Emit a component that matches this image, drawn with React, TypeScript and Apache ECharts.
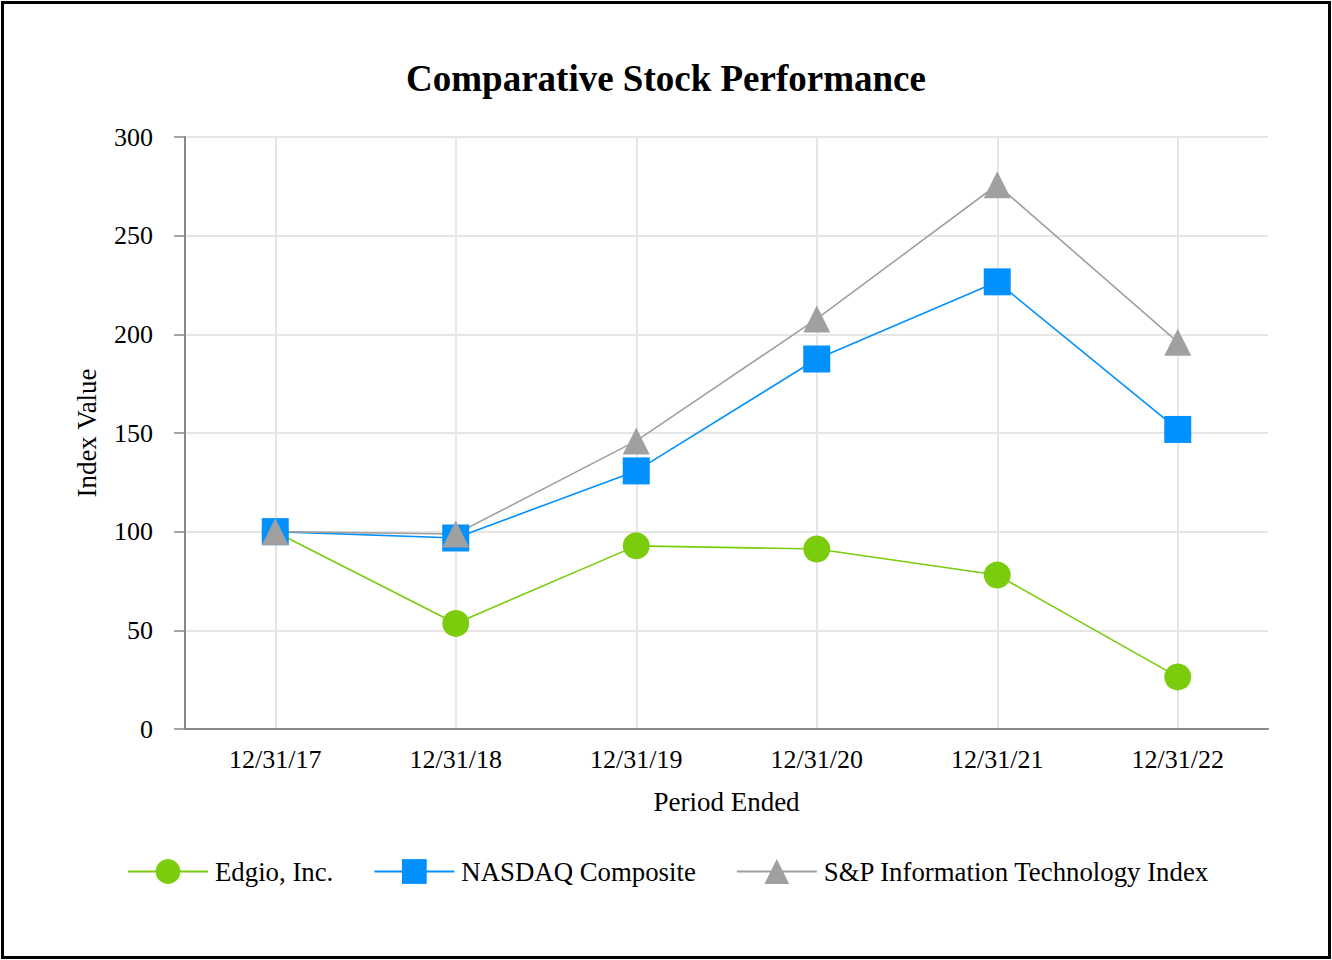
import React, { useEffect, useRef } from "react";
import * as echarts from "echarts";

const categories = ["12/31/17", "12/31/18", "12/31/19", "12/31/20", "12/31/21", "12/31/22"];
const edgio = [100, 53.5, 92.8, 91.2, 78, 26.4];
const nasdaq = [100, 96.8, 130.8, 187.5, 226.6, 151.8];
const sp = [100, 98.8, 146, 207.8, 275.8, 196];
const seriesNames = ["Edgio, Inc.", "NASDAQ Composite", "S&P Information Technology Index"];

const FONT = "'Liberation Serif', 'Times New Roman', serif";
const GREEN = "#7acc0c";
const BLUE = "#0091ff";
const GRAY = "#a0a0a0";

export default function App() {
  const ref = useRef<HTMLDivElement>(null);
  useEffect(() => {
    if (!ref.current) return;
    const chart = echarts.init(ref.current, undefined, { renderer: "svg" });
    const mk = (name: string, data: number[], color: string, symbol: string) => ({
      name,
      type: "line",
      data,
      symbol,
      symbolSize: 27,
      lineStyle: { color, width: 1.6 },
      itemStyle: { color },
      z: 3,
    });
    chart.setOption({
      animation: false,
      backgroundColor: "#ffffff",
      textStyle: { fontFamily: FONT },
      title: {
        text: "Comparative Stock Performance",
        left: "center",
        top: 60,
        padding: 0,
        textStyle: { fontFamily: FONT, fontSize: 37, fontWeight: "bold", color: "#000" },
      },
      grid: { left: 185, right: 64, top: 137, bottom: 231, containLabel: false },
      xAxis: {
        type: "category",
        data: categories,
        boundaryGap: true,
        name: "Period Ended",
        nameLocation: "middle",
        nameGap: 59,
        nameTextStyle: { fontFamily: FONT, fontSize: 27, color: "#000" },
        axisLine: { lineStyle: { color: "#888", width: 2 } },
        axisTick: { alignWithLabel: true, length: 11, lineStyle: { color: "#888", width: 1.5 } },
        axisLabel: { fontFamily: FONT, fontSize: 26, color: "#000", margin: 17 },
        splitLine: { show: true, alignWithLabel: true, lineStyle: { color: "#e6e6e6", width: 2 } },
      },
      yAxis: {
        type: "value",
        min: 0,
        max: 300,
        interval: 50,
        name: "Index Value",
        nameLocation: "middle",
        nameGap: 85,
        nameTextStyle: { fontFamily: FONT, fontSize: 27, color: "#000" },
        axisLine: { show: true, lineStyle: { color: "#888", width: 2 } },
        axisTick: { show: true, length: 11, lineStyle: { color: "#888", width: 1.5 } },
        axisLabel: { fontFamily: FONT, fontSize: 26, color: "#000", margin: 32 },
        splitLine: { show: true, lineStyle: { color: "#e6e6e6", width: 2 } },
      },
      legend: {
        data: seriesNames,
        left: 127,
        top: 858,
        itemWidth: 80,
        itemHeight: 31,
        itemGap: 40,
        padding: 0,
        textStyle: { fontFamily: FONT, fontSize: 26.8, color: "#000", padding: [0, 0, 0, 2] },
      },
      graphic: [
        {
          type: "rect",
          shape: { x: 2.5, y: 2.5, width: 1327, height: 955 },
          style: { fill: "none", stroke: "#000", lineWidth: 3 },
          z: 100,
        },
      ],
      series: [
        mk(seriesNames[0], edgio, GREEN, "circle"),
        mk(seriesNames[1], nasdaq, BLUE, "rect"),
        mk(seriesNames[2], sp, GRAY, "triangle"),
      ],
    });
    return () => chart.dispose();
  }, []);
  return (
    <div
      ref={ref}
      style={{ position: "absolute", left: 0, top: 0, width: 1332, height: 960 }}
    />
  );
}
